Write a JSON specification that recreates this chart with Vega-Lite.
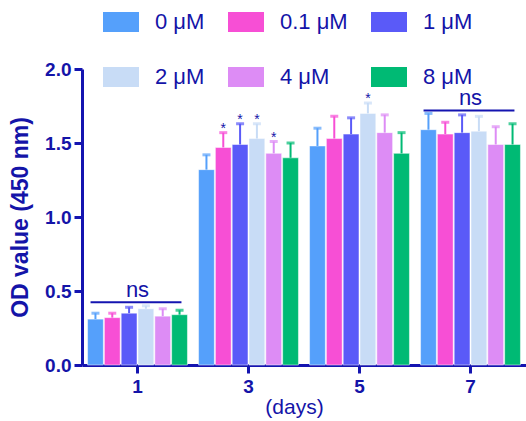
{
  "$schema": "https://vega.github.io/schema/vega-lite/v6.json",
  "width": 444,
  "height": 296,
  "autosize": "none",
  "padding": {"left": 82, "top": 69, "right": 0, "bottom": 56},
  "background": "white",
  "config": {
    "view": {"stroke": null},
    "font": "Liberation Sans",
    "axis": {"domainColor": "#1414b0", "tickColor": "#1414b0", "labelColor": "#1414a8", "titleColor": "#1414a8", "domainWidth": 3, "tickWidth": 3, "tickSize": 8, "grid": false, "labelFont": "Liberation Sans", "titleFont": "Liberation Sans"}
  },
  "datasets": {
    "bars": [
      {"day": "1", "conc": "0 μM", "mean": 0.31, "upper": 0.35, "star": ""},
      {"day": "1", "conc": "0.1 μM", "mean": 0.32, "upper": 0.35, "star": ""},
      {"day": "1", "conc": "1 μM", "mean": 0.35, "upper": 0.39, "star": ""},
      {"day": "1", "conc": "2 μM", "mean": 0.38, "upper": 0.40, "star": ""},
      {"day": "1", "conc": "4 μM", "mean": 0.33, "upper": 0.38, "star": ""},
      {"day": "1", "conc": "8 μM", "mean": 0.34, "upper": 0.37, "star": ""},
      {"day": "3", "conc": "0 μM", "mean": 1.32, "upper": 1.42, "star": ""},
      {"day": "3", "conc": "0.1 μM", "mean": 1.47, "upper": 1.57, "star": "*"},
      {"day": "3", "conc": "1 μM", "mean": 1.49, "upper": 1.63, "star": "*"},
      {"day": "3", "conc": "2 μM", "mean": 1.53, "upper": 1.63, "star": "*"},
      {"day": "3", "conc": "4 μM", "mean": 1.43, "upper": 1.51, "star": "*"},
      {"day": "3", "conc": "8 μM", "mean": 1.40, "upper": 1.50, "star": ""},
      {"day": "5", "conc": "0 μM", "mean": 1.48, "upper": 1.60, "star": ""},
      {"day": "5", "conc": "0.1 μM", "mean": 1.53, "upper": 1.68, "star": ""},
      {"day": "5", "conc": "1 μM", "mean": 1.56, "upper": 1.67, "star": ""},
      {"day": "5", "conc": "2 μM", "mean": 1.70, "upper": 1.77, "star": "*"},
      {"day": "5", "conc": "4 μM", "mean": 1.57, "upper": 1.69, "star": ""},
      {"day": "5", "conc": "8 μM", "mean": 1.43, "upper": 1.57, "star": ""},
      {"day": "7", "conc": "0 μM", "mean": 1.59, "upper": 1.70, "star": ""},
      {"day": "7", "conc": "0.1 μM", "mean": 1.56, "upper": 1.64, "star": ""},
      {"day": "7", "conc": "1 μM", "mean": 1.57, "upper": 1.69, "star": ""},
      {"day": "7", "conc": "2 μM", "mean": 1.58, "upper": 1.68, "star": ""},
      {"day": "7", "conc": "4 μM", "mean": 1.49, "upper": 1.61, "star": ""},
      {"day": "7", "conc": "8 μM", "mean": 1.49, "upper": 1.63, "star": ""}
    ],
    "ns": [
      {"day": "1", "level": 0.424, "label": "ns"},
      {"day": "7", "level": 1.72, "label": "ns"}
    ]
  },
  "encoding": {
    "x": {
      "field": "day", "type": "nominal", "sort": ["1", "3", "5", "7"],
      "scale": {"paddingInner": 0.1, "paddingOuter": 0.05},
      "axis": {"labelAngle": 0, "title": "(days)", "labelFontSize": 19, "labelFontWeight": "bold", "labelPadding": 4, "titleFontSize": 21, "titleFontWeight": "normal", "titlePadding": 0, "titleX": 212}
    }
  },
  "layer": [
    {
      "data": {"name": "bars"},
      "mark": {"type": "bar", "stroke": "white", "strokeWidth": 0.5},
      "encoding": {
        "xOffset": {"field": "conc", "type": "nominal", "sort": ["0 μM", "0.1 μM", "1 μM", "2 μM", "4 μM", "8 μM"], "scale": {"paddingInner": 0.06}},
        "y": {"field": "mean", "type": "quantitative", "scale": {"domain": [0, 2]}, "axis": {"values": [0, 0.5, 1, 1.5, 2], "format": ".1f", "title": "OD value (450 nm)", "labelFontSize": 19, "labelFontWeight": "bold", "labelPadding": 3, "titleFontSize": 23, "titleFontWeight": "bold", "titlePadding": 12}},
        "color": {
          "field": "conc", "type": "nominal",
          "sort": ["0 μM", "0.1 μM", "1 μM", "2 μM", "4 μM", "8 μM"],
          "scale": {"domain": ["0 μM", "0.1 μM", "1 μM", "2 μM", "4 μM", "8 μM"], "range": ["#55a0fb", "#f74fd5", "#5a5af8", "#c8dcf6", "#dd8cf5", "#00ba74"]},
          "legend": {
            "orient": "none", "legendX": 28, "legendY": -58, "columns": 3, "direction": "horizontal",
            "gridAlign": "each",
            "title": null,
            "symbolType": "M-1.8,-1L1.8,-1L1.8,1L-1.8,1Z",
            "symbolSize": 400, "symbolStrokeWidth": 0, "symbolOpacity": 1,
            "labelFontSize": 22, "labelColor": "#1414a8", "labelFont": "Liberation Sans",
            "labelOffset": 23, "columnPadding": 23, "rowPadding": 33
          }
        }
      }
    },
    {
      "data": {"name": "bars"},
      "mark": {"type": "rule", "strokeWidth": 2},
      "encoding": {
        "xOffset": {"field": "conc", "type": "nominal", "sort": ["0 μM", "0.1 μM", "1 μM", "2 μM", "4 μM", "8 μM"]},
        "y": {"field": "mean", "type": "quantitative"},
        "y2": {"field": "upper"},
        "color": {"field": "conc", "type": "nominal", "legend": null}
      }
    },
    {
      "data": {"name": "bars"},
      "mark": {"type": "tick", "size": 8, "thickness": 3},
      "encoding": {
        "xOffset": {"field": "conc", "type": "nominal", "sort": ["0 μM", "0.1 μM", "1 μM", "2 μM", "4 μM", "8 μM"]},
        "y": {"field": "upper", "type": "quantitative"},
        "color": {"field": "conc", "type": "nominal", "legend": null}
      }
    },
    {
      "data": {"name": "bars"},
      "mark": {"type": "text", "fontSize": 14, "color": "#1414a8", "baseline": "alphabetic", "dy": 0},
      "encoding": {
        "xOffset": {"field": "conc", "type": "nominal", "sort": ["0 μM", "0.1 μM", "1 μM", "2 μM", "4 μM", "8 μM"]},
        "y": {"field": "upper", "type": "quantitative"},
        "text": {"field": "star"}
      }
    },
    {
      "data": {"name": "ns"},
      "mark": {"type": "rule", "strokeWidth": 2, "color": "#1414b0"},
      "encoding": {
        "x": {"field": "day", "type": "nominal", "bandPosition": 0.03},
        "x2": {"field": "day", "bandPosition": 0.94},
        "y": {"field": "level", "type": "quantitative"}
      }
    },
    {
      "data": {"name": "ns"},
      "mark": {"type": "text", "fontSize": 22, "color": "#1414a8", "baseline": "alphabetic", "dy": -5},
      "encoding": {
        "y": {"field": "level", "type": "quantitative"},
        "text": {"field": "label"}
      }
    }
  ]
}
